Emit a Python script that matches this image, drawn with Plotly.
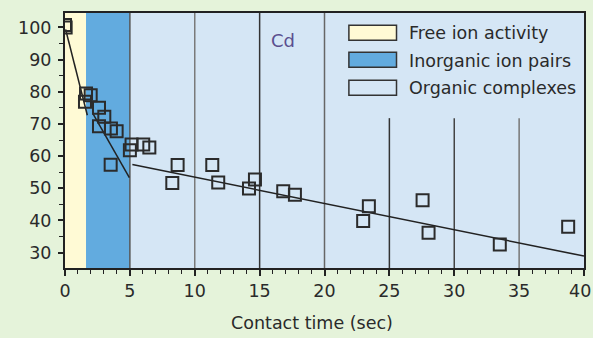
import plotly.graph_objects as go

# ---- data ----
x_obs = [0.0, 0.05, 1.54, 1.62, 1.98, 2.62, 3.03, 2.62, 3.54, 3.98, 3.52, 5.0, 5.13, 6.03, 6.5,
         8.27, 8.68, 11.35, 11.81, 14.18, 14.64, 16.82, 17.72, 22.98, 23.42, 27.56, 28.02, 33.51, 38.78]
y_obs = [100.8, 100.0, 76.9, 79.5, 78.9, 75.0, 72.2, 69.3, 68.6, 67.7, 57.3, 61.8, 63.6, 63.6, 62.7,
         51.6, 57.2, 57.2, 51.8, 49.9, 52.7, 49.1, 48.0, 39.8, 44.4, 46.3, 36.2, 32.5, 38.0]

fit1_x = [0.05, 1.72]
fit1_y = [99.4, 72.7]
fit2_x = [2.13, 4.96]
fit2_y = [73.4, 53.3]
fit3_x = [5.19, 40.0]
fit3_y = [57.4, 28.9]

region_names = ["Free ion activity", "Inorganic ion pairs", "Organic complexes"]
region_bounds = [(0, 1.62), (1.62, 5), (5, 40)]
region_colors = ["#fffad5", "#62abdf", "#d5e6f5"]

full_lines = [5, 10, 15, 20]
short_lines = [25, 30, 35]
line_colors = {5: "#555", 10: "#7a7a7a", 15: "#333", 20: "#666", 25: "#333", 30: "#444", 35: "#777"}
short_top = 71.8

x_ticks = [0, 5, 10, 15, 20, 25, 30, 35, 40]
x_ticktext = ["0", "5", "10", "15", "20", "25", "30", "35", ""]   # "40" drawn as annotation at edge
last_x_label = "40"
y_ticks = [30, 40, 50, 60, 70, 80, 90, 100]

FONT = "DejaVu Sans"
TXT = "#2a2a2a"
FS = 17.5

fig = go.Figure()

for sx, sy in [(fit1_x, fit1_y), (fit2_x, fit2_y), (fit3_x, fit3_y)]:
    fig.add_trace(go.Scatter(x=sx, y=sy, mode="lines",
                             line=dict(color="#222222", width=1.5),
                             showlegend=False, hoverinfo="skip"))

fig.add_trace(go.Scatter(x=x_obs, y=y_obs, mode="markers",
                         marker=dict(symbol="square-open", size=12,
                                     color="#2b2b2b", line=dict(width=2, color="#2b2b2b")),
                         showlegend=False))

shapes = []
for (x0, x1), c in zip(region_bounds, region_colors):
    shapes.append(dict(type="rect", xref="x", yref="y domain", x0=x0, x1=x1, y0=0, y1=1,
                       fillcolor=c, line=dict(width=0), layer="below"))
for xv in full_lines:
    shapes.append(dict(type="line", xref="x", yref="y domain", x0=xv, x1=xv, y0=0, y1=1,
                       line=dict(color=line_colors[xv], width=1.5), layer="below"))
for xv in short_lines:
    shapes.append(dict(type="line", xref="x", yref="y", x0=xv, x1=xv, y0=25.2, y1=short_top,
                       line=dict(color=line_colors[xv], width=1.5), layer="below"))

# legend patches
patch_y = [(96.05, 100.72), (87.6, 92.3), (78.9, 83.6)]
text_y = [98.2, 89.5, 81.1]
annotations = []
for name, c, (py0, py1), ty in zip(region_names, region_colors, patch_y, text_y):
    shapes.append(dict(type="rect", xref="x", yref="y", x0=21.88, x1=25.55, y0=py0, y1=py1,
                       fillcolor=c, line=dict(color="#333", width=1.5)))
    annotations.append(dict(x=26.35, y=ty, xref="x", yref="y", text=name, showarrow=False,
                            xanchor="left", yanchor="middle",
                            font=dict(family=FONT, size=FS, color=TXT)))

annotations.append(dict(x=16.77, y=95.8, xref="x", yref="y", text="Cd", showarrow=False,
                        xanchor="center", yanchor="middle",
                        font=dict(family=FONT, size=18, color="#5b4f8f")))
annotations.append(dict(x=(312 - 65) / 519, y=-(323 - 267.7) / 255, xref="paper", yref="paper",
                        text="Contact time (sec)", showarrow=False, xanchor="center", yanchor="middle",
                        font=dict(family=FONT, size=FS, color=TXT)))
annotations.append(dict(x=(592 - 65) / 519, y=-(291 - 267.7) / 255, xref="paper", yref="paper",
                        text=last_x_label, showarrow=False, xanchor="right", yanchor="middle",
                        borderpad=0, font=dict(family=FONT, size=FS, color=TXT)))

fig.update_layout(
    width=593, height=338,
    margin=dict(l=65, r=9, t=13, b=70),
    paper_bgcolor="#e5f3da",
    plot_bgcolor="#d5e6f5",
    shapes=shapes,
    annotations=annotations,
    font=dict(family=FONT, size=FS, color=TXT),
    xaxis=dict(range=[0, 40], tickvals=x_ticks, ticktext=x_ticktext, ticks="outside", ticklen=6, tickwidth=1.5,
               tickcolor="#222", showgrid=False, zeroline=False, showline=True,
               linecolor="#222", linewidth=2, mirror=True, automargin=False,
               ticklabeloverflow="allow",
               minor=dict(dtick=1, ticks="outside", ticklen=4, tickcolor="#222", tickwidth=1.2, showgrid=False),
               tickfont=dict(family=FONT, size=FS, color=TXT)),
    yaxis=dict(range=[25.2, 104.5], tickvals=y_ticks, ticks="outside", ticklen=5, tickwidth=1.5,
               tickcolor="#222", showgrid=False, zeroline=False, showline=True,
               linecolor="#222", linewidth=2, mirror=True, automargin=False,
               ticklabelstandoff=3, ticklabeloverflow="allow",
               minor=dict(dtick=5, tick0=0, ticks="outside", ticklen=4, tickcolor="#222", tickwidth=1.2, showgrid=False),
               tickfont=dict(family=FONT, size=FS, color=TXT)),
)

fig.write_html("out.html")
